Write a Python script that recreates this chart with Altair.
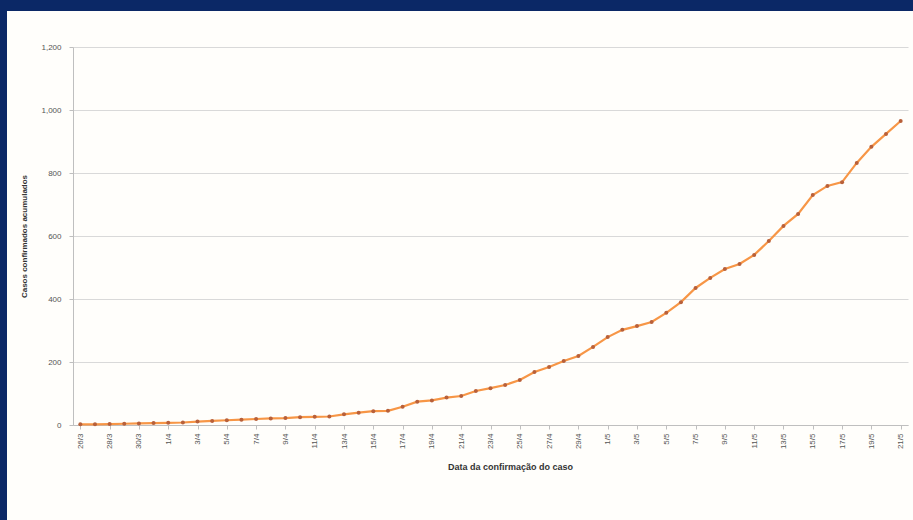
import altair as alt
import pandas as pd

dates = [
    "26/3", "27/3", "28/3", "29/3", "30/3", "31/3",
    "1/4", "2/4", "3/4", "4/4", "5/4", "6/4", "7/4", "8/4", "9/4", "10/4",
    "11/4", "12/4", "13/4", "14/4", "15/4", "16/4", "17/4", "18/4", "19/4", "20/4",
    "21/4", "22/4", "23/4", "24/4", "25/4", "26/4", "27/4", "28/4", "29/4", "30/4",
    "1/5", "2/5", "3/5", "4/5", "5/5", "6/5", "7/5", "8/5", "9/5", "10/5",
    "11/5", "12/5", "13/5", "14/5", "15/5", "16/5", "17/5", "18/5", "19/5", "20/5", "21/5",
]
cases = [
    2, 2, 3, 4, 5, 6, 7, 8, 11, 13,
    15, 17, 19, 21, 22, 25, 26, 27, 34, 39,
    44, 45, 58, 74, 78, 87, 92, 108, 117, 127,
    143, 168, 184, 203, 219, 248, 279, 302, 314, 327,
    356, 390, 435, 467, 495, 511, 540, 584, 632, 670,
    730, 759, 771, 832, 883, 924, 965,
]
tick_labels = dates[::2]
y_ticks = [0, 200, 400, 600, 800, 1000, 1200]

df = pd.DataFrame({"data": dates, "casos": cases})

NAVY = "#0b2866"
FONT = "Liberation Sans"

x_enc = alt.X(
    "data:N",
    sort=dates,
    scale=alt.Scale(type="point", padding=0.5),
    axis=alt.Axis(
        values=tick_labels,
        labelAngle=270,
        labelFontSize=8,
        labelColor="#555555",
        labelFont=FONT,
        labelPadding=4,
        tickColor="#bfbfbf",
        tickSize=4,
        domainColor="#bfbfbf",
        grid=False,
        title="Data da confirmação do caso",
        titleFontSize=9,
        titleFont=FONT,
        titleFontWeight="bold",
        titleColor="#333333",
        titlePadding=14,
        titleX=437,
    ),
)
y_enc = alt.Y(
    "casos:Q",
    scale=alt.Scale(domain=[0, 1200], nice=False),
    axis=alt.Axis(
        values=y_ticks,
        format=",d",
        labelFontSize=8,
        labelColor="#555555",
        labelFont=FONT,
        labelPadding=8,
        tickSize=4,
        tickColor="#bfbfbf",
        domainColor="#bfbfbf",
        gridColor="#d9d9d9",
        title="Casos confirmados acumulados",
        titleFontSize=8,
        titleFont=FONT,
        titleFontWeight="bold",
        titleColor="#333333",
        titlePadding=12,
    ),
)

frame_src = alt.Data(values=[{"k": 0}])
top_strip = alt.Chart(frame_src).mark_rect(color=NAVY).encode(
    x=alt.value(-73), x2=alt.value(845), y=alt.value(-47), y2=alt.value(-36)
)
left_strip = alt.Chart(frame_src).mark_rect(color=NAVY).encode(
    x=alt.value(-73), x2=alt.value(-66), y=alt.value(-47), y2=alt.value(480)
)

line = alt.Chart(df).mark_line(color="#f79646", strokeWidth=2.2).encode(x=x_enc, y=y_enc)
pts = alt.Chart(df).mark_circle(color="#b8603a", size=16, opacity=1).encode(x=x_enc, y=y_enc)

chart = (
    alt.layer(top_strip, left_strip, line, pts)
    .properties(
        width=835,
        height=378,
        autosize=alt.AutoSizeParams(type="none"),
        padding={"left": 73, "top": 47, "right": 5, "bottom": 95},
        background="#fffefb",
    )
    .configure_view(stroke=None)
)

chart.save("out.html", embed_options={"renderer": "svg", "actions": False})
